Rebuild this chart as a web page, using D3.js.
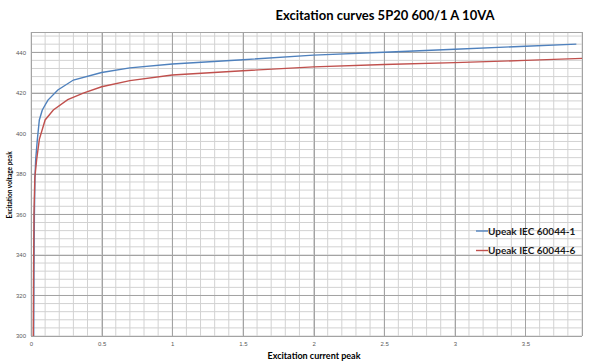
<!DOCTYPE html>
<html>
<head>
<meta charset="utf-8">
<script src="https://cdn.jsdelivr.net/npm/d3@7"></script>
<style>
  body { margin: 0; background: #fff; }
  svg { font-family: Lato, "Open Sans", sans-serif; }
  .tick text { fill: #595959; font-size: 6px; }
</style>
</head>
<body>
<div id="chart"></div>
<script>
// series values
var seriesNames = ["Upeak IEC 60044-1", "Upeak IEC 60044-6"];
var seriesColors = ["#4f81bd", "#c0504d"];

var current1 = [0.019, 0.021, 0.024, 0.028, 0.033, 0.045, 0.059, 0.08, 0.12, 0.19, 0.3, 0.5, 0.7, 1.0, 1.5, 2.0, 2.5, 3.0, 3.5, 3.86];
var voltage1 = [300, 330, 360, 378, 387, 397, 406.6, 411.5, 416.4, 421.4, 426.3, 430, 432.3, 434.2, 436.3, 438.6, 440, 441.5, 443, 444];

var current6 = [0.016, 0.018, 0.021, 0.027, 0.04, 0.059, 0.1, 0.158, 0.26, 0.37, 0.5, 0.7, 1.0, 1.5, 2.0, 2.5, 3.0, 3.5, 3.9];
var voltage6 = [300, 330, 360, 378, 387, 397, 406.6, 411.5, 416.6, 419.8, 423, 426, 428.8, 430.9, 432.8, 434, 434.9, 436, 437];

var xTicks = [0, 0.5, 1, 1.5, 2, 2.5, 3, 3.5];
var yTicks = [300, 320, 340, 360, 380, 400, 420, 440];

var margin = { top: 32, right: 10, bottom: 27, left: 31 },
  width = 592 - margin.left - margin.right,
  height = 363 - margin.top - margin.bottom;

var svg = d3.select("#chart").append("svg")
  .attr("width", 592)
  .attr("height", 363);

var g = svg.append("g")
  .attr("transform", "translate(" + margin.left + "," + margin.top + ")");

var x = d3.scaleLinear().domain([0, 3.9]).range([0, width]);
var y = d3.scaleLinear().domain([300, 450]).range([height, 0]);

// minor grid
g.append("g").selectAll("line")
  .data(d3.range(0, 39.5, 1).map(function (d) { return d / 10; }))
  .enter().append("line")
  .attr("x1", function (d) { return x(d); })
  .attr("x2", function (d) { return x(d); })
  .attr("y1", 0).attr("y2", height)
  .style("stroke", "#d2d2d2");

g.append("g").selectAll("line")
  .data(d3.range(300, 451, 4))
  .enter().append("line")
  .attr("y1", function (d) { return y(d); })
  .attr("y2", function (d) { return y(d); })
  .attr("x1", 0).attr("x2", width)
  .style("stroke", "#d2d2d2");

// major grid
g.append("g").selectAll("line")
  .data(xTicks.concat([3.9]))
  .enter().append("line")
  .attr("x1", function (d) { return Math.round(x(d)) + 0.5; })
  .attr("x2", function (d) { return Math.round(x(d)) + 0.5; })
  .attr("y1", 0).attr("y2", height)
  .style("stroke", "#a3a3a3");

g.append("g").selectAll("line")
  .data(yTicks.concat([450]))
  .enter().append("line")
  .attr("y1", function (d) { return Math.round(y(d)) + 0.5; })
  .attr("y2", function (d) { return Math.round(y(d)) + 0.5; })
  .attr("x1", 0).attr("x2", width)
  .style("stroke", "#a3a3a3");

// axes
var xAxis = g.append("g")
  .attr("transform", "translate(0," + height + ")")
  .call(d3.axisBottom(x).tickValues(xTicks).tickSize(0).tickPadding(6).tickFormat(d3.format("")));
xAxis.select(".domain").remove();

var yAxis = g.append("g")
  .call(d3.axisLeft(y).tickValues(yTicks).tickSize(0).tickPadding(5));
yAxis.select(".domain").remove();

// lines
var line = d3.line()
  .x(function (d) { return x(d[0]); })
  .y(function (d) { return y(d[1]); });

var data1 = current1.map(function (c, i) { return [c, voltage1[i]]; });
var data6 = current6.map(function (c, i) { return [c, voltage6[i]]; });

[data1, data6].forEach(function (d, i) {
  g.append("path")
    .datum(d)
    .attr("d", line)
    .style("fill", "none")
    .style("stroke", seriesColors[i])
    .style("stroke-width", 1.4);
});

// title and axis labels
svg.append("text")
  .attr("x", 385)
  .attr("y", 20)
  .style("text-anchor", "middle")
  .style("font-weight", "bold")
  .style("font-size", "13px")
  .style("fill", "#000")
  .text("Excitation curves 5P20 600/1 A 10VA");

svg.append("text")
  .attr("x", 314)
  .attr("y", 359)
  .style("text-anchor", "middle")
  .style("font-weight", "bold")
  .style("font-size", "9px")
  .text("Excitation current peak");

svg.append("text")
  .attr("transform", "translate(12,185) rotate(-90)")
  .style("text-anchor", "middle")
  .style("font-weight", "bold")
  .style("font-size", "6.5px")
  .text("Excitation voltage peak");

// legend
var legend = svg.append("g")
  .attr("transform", "translate(476,231)");

var legendGroups = legend.selectAll("g")
  .data(seriesNames)
  .enter().append("g")
  .attr("transform", function (d, i) { return "translate(0," + i * 19.5 + ")"; });

legendGroups.append("line")
  .attr("x1", 0).attr("x2", 12)
  .attr("y1", 0).attr("y2", 0)
  .style("stroke", function (d, i) { return seriesColors[i]; })
  .style("stroke-width", 1.4);

legendGroups.append("text")
  .attr("x", 12)
  .attr("y", 3.5)
  .style("font-weight", "bold")
  .style("font-size", "10px")
  .style("fill", "#1a1a1a")
  .text(function (d) { return d; });
</script>
</body>
</html>
